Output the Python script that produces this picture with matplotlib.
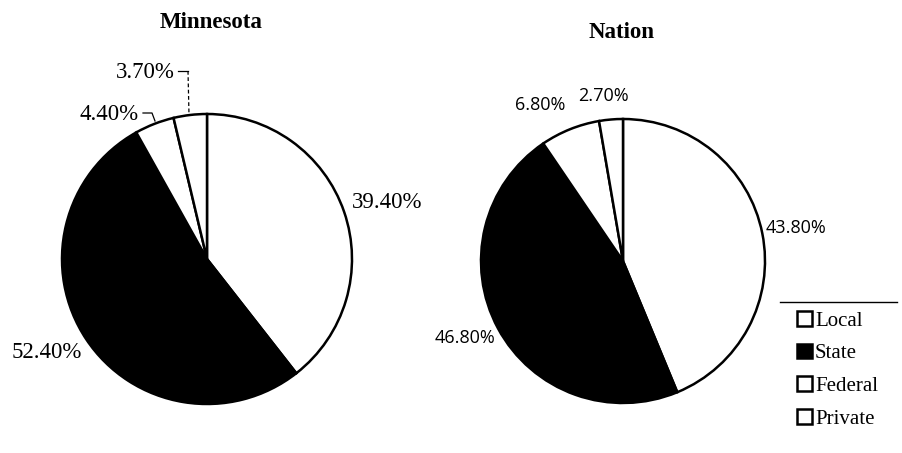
import matplotlib
matplotlib.use("Agg")
import matplotlib.pyplot as plt
from matplotlib.patches import Rectangle

categories = ["Local", "State", "Federal", "Private"]
minnesota = [39.4, 52.4, 4.4, 3.7]
nation = [43.8, 46.8, 6.8, 2.7]
mn_labels = ["39.40%", "52.40%", "4.40%", "3.70%"]
na_labels = ["43.80%", "46.80%", "6.80%", "2.70%"]
colors = ["white", "black", "white", "white"]

W, H = 902, 453
fig = plt.figure(figsize=(W / 100, H / 100), dpi=100)
ax = fig.add_axes([0, 0, 1, 1])


def Y(py):
    return H - py


serif = "Liberation Serif"
sans = "Open Sans"

wp = dict(edgecolor="black", linewidth=1.8)
ax.pie(minnesota, colors=colors, startangle=90, counterclock=False,
       center=(207, Y(259)), radius=145, wedgeprops=wp, frame=True)
ax.pie(nation, colors=colors, startangle=90, counterclock=False,
       center=(623, Y(261)), radius=142, wedgeprops=wp, frame=True)
ax.set_xlim(0, W)
ax.set_ylim(0, H)
ax.set_aspect("equal")
ax.axis("off")

ax.text(211, Y(22), "Minnesota", ha="center", va="center", fontsize=16.5,
        fontweight="bold", family=serif)
ax.text(622, Y(33), "Nation", ha="center", va="center", fontsize=16.5,
        fontweight="bold", family=serif)

fs = 16.5
# Minnesota labels
ax.text(352, Y(203), mn_labels[0], ha="left", va="center", fontsize=fs, family=serif)
ax.text(12, Y(353), mn_labels[1], ha="left", va="center", fontsize=fs, family=serif)
ax.text(79, Y(115), mn_labels[2], ha="left", va="center", fontsize=fs, family=serif)
ax.text(116, Y(72), mn_labels[3], ha="left", va="center", fontsize=fs, family=serif)
ax.plot([143, 152, 155], [Y(113), Y(113), Y(121)], color="black", lw=0.9)
ax.plot([178, 188], [Y(71), Y(71)], color="black", lw=0.9)
ax.plot([188, 189], [Y(71), Y(115)], color="black", lw=0.9, ls=(0, (3, 2)))

# Nation labels
nfs = 13
ax.text(766, Y(228), na_labels[0], ha="left", va="center", fontsize=nfs, family=sans)
ax.text(435, Y(338), na_labels[1], ha="left", va="center", fontsize=nfs, family=sans)
ax.text(515, Y(105), na_labels[2], ha="left", va="center", fontsize=nfs, family=sans)
ax.text(578, Y(96), na_labels[3], ha="left", va="center", fontsize=nfs, family=sans)

# Legend
ax.plot([780, 897], [Y(302), Y(302)], color="black", lw=1.0)
handles = [Rectangle((0, 0), 1, 1, facecolor=c, edgecolor="black", linewidth=1.8)
           for c in colors]
leg = ax.legend(handles, categories, loc="upper left",
                bbox_to_anchor=(797 / W, 1 - 311 / H), frameon=False,
                prop={"family": serif, "size": 15}, handlelength=0.72,
                handleheight=0.72, handletextpad=0.15, labelspacing=0.62,
                borderaxespad=0, borderpad=0)

fig.savefig("out.png", dpi=100)
